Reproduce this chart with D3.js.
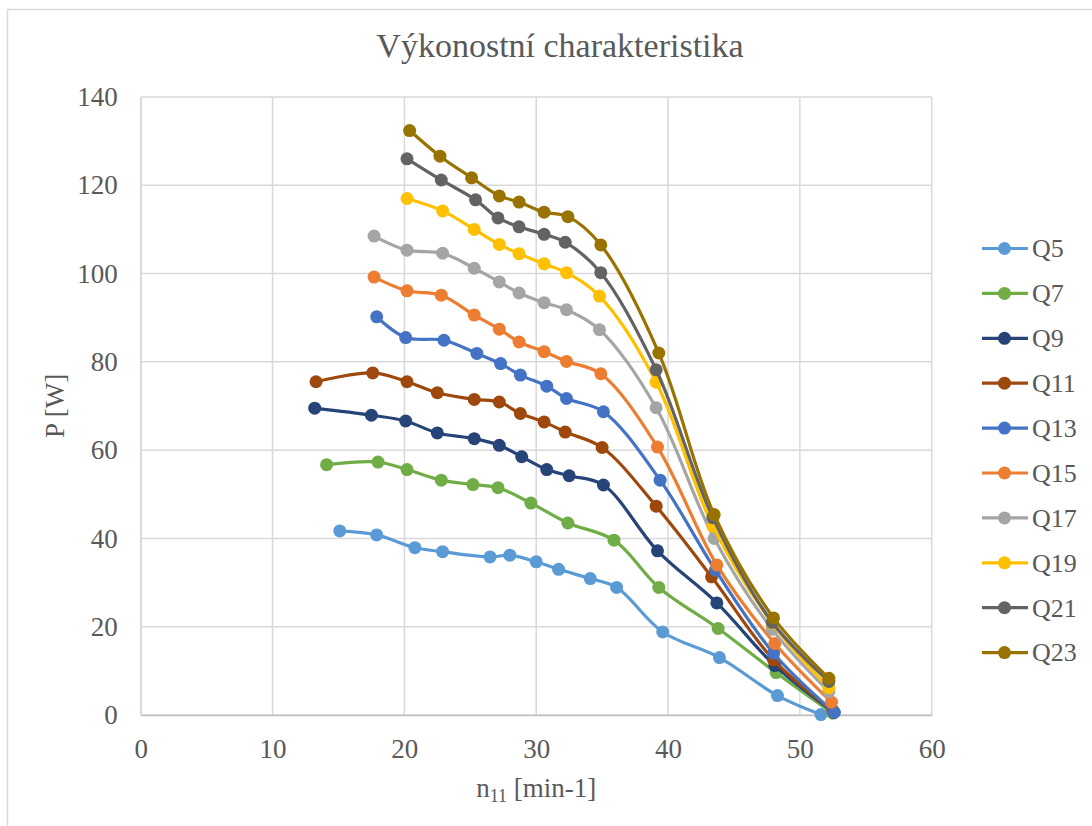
<!DOCTYPE html>
<html>
<head>
<meta charset="utf-8">
<script src="https://cdn.jsdelivr.net/npm/d3@7"></script>
<style>
  html, body { margin: 0; padding: 0; background: #fff; }
  svg { display: block; }
</style>
</head>
<body>
<svg id="chart" width="1092" height="826"></svg>
<script>
const seriesNames = ["Q5","Q7","Q9","Q11","Q13","Q15","Q17","Q19","Q21","Q23"];
const seriesColors = ["#5B9BD5","#70AD47","#264478","#9E480E","#4472C4","#ED7D31","#A5A5A5","#FFC000","#636363","#997300"];

const xQ5  = [15.1,17.9,20.8,22.9,26.5,28.0,30.0,31.7,34.1,36.1,39.6,43.9,48.3,51.6];
const yQ5  = [41.7,40.8,37.9,37.0,35.8,36.2,34.7,33.0,30.9,28.9,18.8,13.0,4.4,0.1];
const xQ7  = [14.1,18.0,20.2,22.8,25.2,27.1,29.6,32.4,35.9,39.3,43.8,48.2,52.5];
const yQ7  = [56.7,57.3,55.6,53.2,52.2,51.5,48.0,43.5,39.6,28.9,19.6,9.6,0.4];
const xQ9  = [13.2,17.5,20.1,22.5,25.3,27.2,28.9,30.8,32.5,35.1,39.2,43.7,48.1,52.6];
const yQ9  = [69.5,67.9,66.6,63.9,62.6,61.1,58.5,55.6,54.2,52.1,37.2,25.4,11.2,0.6];
const xQ11 = [13.3,17.6,20.2,22.5,25.3,27.2,28.8,30.6,32.2,35.0,39.1,43.3,48.0,52.5];
const yQ11 = [75.5,77.5,75.5,73.0,71.5,70.9,68.3,66.4,64.1,60.6,47.3,31.3,12.5,1.0];
const xQ13 = [17.9,20.1,23.0,25.5,27.3,28.8,30.8,32.3,35.1,39.4,43.6,48.0,52.6];
const yQ13 = [90.2,85.5,84.9,81.9,79.6,77.0,74.5,71.7,68.7,53.2,32.8,14.0,0.6];
const xQ15 = [17.7,20.2,22.8,25.3,27.2,28.7,30.6,32.3,34.9,39.2,43.7,48.1,52.4];
const yQ15 = [99.2,96.1,95.1,90.6,87.4,84.5,82.3,80.1,77.3,60.7,34.0,16.2,2.9];
const xQ17 = [17.7,20.2,22.9,25.3,27.2,28.7,30.6,32.3,34.8,39.1,43.5,47.9,52.2];
const yQ17 = [108.5,105.3,104.6,101.2,98.1,95.6,93.4,91.8,87.3,69.6,40.0,19.4,5.3];
const xQ19 = [20.2,22.9,25.3,27.2,28.7,30.6,32.3,34.8,39.1,43.4,47.9,52.2];
const yQ19 = [117.0,114.2,110.0,106.6,104.5,102.2,100.2,94.9,75.4,42.8,20.8,6.2];
const xQ21 = [20.2,22.8,25.4,27.1,28.7,30.6,32.2,34.9,39.1,43.4,47.9,52.2];
const yQ21 = [126.0,121.2,116.7,112.6,110.6,108.9,107.1,100.2,78.2,44.7,21.0,7.6];
const xQ23 = [20.4,22.7,25.1,27.2,28.7,30.6,32.4,34.9,39.3,43.5,48.0,52.2];
const yQ23 = [132.4,126.6,121.7,117.6,116.2,113.9,112.9,106.5,82.0,45.4,22.0,8.3];

const seriesX = [xQ5,xQ7,xQ9,xQ11,xQ13,xQ15,xQ17,xQ19,xQ21,xQ23];
const seriesY = [yQ5,yQ7,yQ9,yQ11,yQ13,yQ15,yQ17,yQ19,yQ21,yQ23];

const xTicks = [0,10,20,30,40,50,60];
const yTicks = [0,20,40,60,80,100,120,140];

const titleText = "Výkonostní charakteristika";
const yTitle = "P [W]";

const svg = d3.select("#chart");
const FONT = "'Liberation Serif', 'Times New Roman', serif";
const TXT = "#595959";

// chart border
svg.append("rect").attr("x",7.5).attr("y",9.5).attr("width",1200).attr("height",900)
  .attr("fill","none").attr("stroke","#D9D9D9").attr("stroke-width",1.5);

const plot = {left:140.7, right:931.7, top:97, bottom:715};
const x = d3.scaleLinear().domain([0,60]).range([plot.left, plot.right]);
const y = d3.scaleLinear().domain([0,140]).range([plot.bottom, plot.top]);

// gridlines
const g = svg.append("g");
g.append("g").selectAll("line").data(yTicks).join("line")
  .attr("x1",plot.left).attr("x2",plot.right)
  .attr("y1",d=>y(d)).attr("y2",d=>y(d))
  .attr("stroke","#D9D9D9").attr("stroke-width",1.5);
g.append("g").selectAll("line").data(xTicks).join("line")
  .attr("y1",plot.top).attr("y2",plot.bottom)
  .attr("x1",d=>x(d)).attr("x2",d=>x(d))
  .attr("stroke","#D9D9D9").attr("stroke-width",1.5);

// axes with labels
const xAxis = d3.axisBottom(x).tickValues(xTicks).tickSize(0).tickPadding(24);
const yAxis = d3.axisLeft(y).tickValues(yTicks).tickSize(0).tickPadding(23);
const gx = svg.append("g").attr("transform",`translate(0,${plot.bottom})`).call(xAxis);
const gy = svg.append("g").attr("transform",`translate(${plot.left},0)`).call(yAxis);
[gx,gy].forEach(a=>{
  a.select(".domain").attr("stroke","#BFBFBF").attr("stroke-width",1.5);
  a.selectAll("text").attr("fill",TXT).style("font-family",FONT).style("font-size","27px");
});
gy.select(".domain").attr("stroke","#D9D9D9");

// title
svg.append("text").attr("x",560).attr("y",57).attr("text-anchor","middle")
  .attr("fill",TXT).style("font-family",FONT).style("font-size","34px").text(titleText);

// axis titles
svg.append("text").attr("transform",`translate(64,${(plot.top+plot.bottom)/2}) rotate(-90)`)
  .attr("text-anchor","middle").attr("fill",TXT).style("font-family",FONT).style("font-size","27px")
  .text(yTitle);
const xt = svg.append("text").attr("x",(plot.left+plot.right)/2).attr("y",797).attr("text-anchor","middle")
  .attr("fill",TXT).style("font-family",FONT).style("font-size","27px");
xt.append("tspan").text("n");
xt.append("tspan").attr("dy",5).style("font-size","18px").text("11");
xt.append("tspan").attr("dy",-5).text(" [min-1]");

// series
const line = d3.line().x(d=>x(d[0])).y(d=>y(d[1])).curve(d3.curveCatmullRom.alpha(0.5));
seriesNames.forEach((name,i)=>{
  const pts = seriesX[i].map((v,j)=>[v, seriesY[i][j]]);
  const sg = svg.append("g");
  sg.append("path").attr("d",line(pts)).attr("fill","none")
    .attr("stroke",seriesColors[i]).attr("stroke-width",3.2).attr("stroke-linejoin","round");
  sg.selectAll("circle").data(pts).join("circle")
    .attr("cx",d=>x(d[0])).attr("cy",d=>y(d[1])).attr("r",6.5)
    .attr("fill",seriesColors[i]);
});

// legend
const lg = svg.append("g");
seriesNames.forEach((name,i)=>{
  const ly = 248.5 + i*44.9;
  lg.append("line").attr("x1",982).attr("x2",1028).attr("y1",ly).attr("y2",ly)
    .attr("stroke",seriesColors[i]).attr("stroke-width",3.2);
  lg.append("circle").attr("cx",1004.5).attr("cy",ly).attr("r",6.5).attr("fill",seriesColors[i]);
  lg.append("text").attr("x",1032).attr("y",ly).attr("dy","0.34em")
    .attr("fill",TXT).style("font-family",FONT).style("font-size","26px").text(name);
});
</script>
</body>
</html>
